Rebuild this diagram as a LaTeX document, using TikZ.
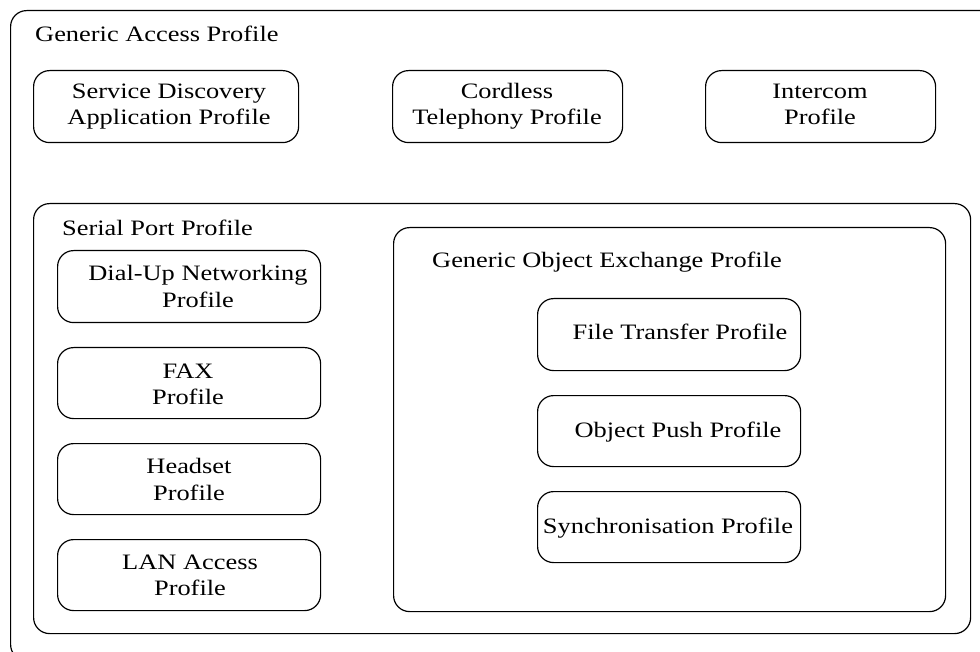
\documentclass[tikz,border=0pt]{standalone}
\usepackage{fontspec}
\setmainfont[FakeStretch=1.2]{Liberation Serif}
\begin{document}
\begin{tikzpicture}[x=1pt,y=-1pt,
  box/.style={draw=black, line width=1.2pt, rounded corners=16pt, anchor=north west, inner sep=0pt},
  txt/.style={anchor=base, inner sep=0pt, font=\fontsize{22}{26}\selectfont},
  lbl/.style={txt, anchor=base west}]
\useasboundingbox (0,0) rectangle (980,652);
\begin{scope}
\clip (0,0) rectangle (980,652);
\node[box, minimum width=1000pt, minimum height=650pt] (gap) at (10,10) {};
\end{scope}
\node[lbl] (gapl) at (35,42) {Generic Access Profile};
% top row
\node[box, minimum width=265pt, minimum height=72pt] (sdap) at (33,70) {};
\node[box, minimum width=230pt, minimum height=72pt] (ctp) at (392,70) {};
\node[box, minimum width=230pt, minimum height=72pt] (icp) at (705,70) {};
\node[txt] (sdap1) at (169,99) {Service Discovery};
\node[txt] (sdap2) at (169,125) {Application Profile};
\node[txt] (ctp1) at (507,99) {Cordless};
\node[txt] (ctp2) at (507,125) {Telephony Profile};
\node[txt] (icp1) at (820,99) {Intercom};
\node[txt] (icp2) at (820,125) {Profile};
% serial port profile
\node[box, minimum width=937pt, minimum height=430pt] (spp) at (33,203) {};
\node[lbl] (sppl) at (62,236) {Serial Port Profile};
\node[box, minimum width=263pt, minimum height=72pt] (dun) at (57,250) {};
\node[box, minimum width=263pt, minimum height=71pt] (fax) at (57,347) {};
\node[box, minimum width=263pt, minimum height=71pt] (hsp) at (57,443) {};
\node[box, minimum width=263pt, minimum height=71pt] (lap) at (57,539) {};
\node[txt] (dun1) at (198,281) {Dial-Up Networking};
\node[txt] (dun2) at (198,308) {Profile};
\node[txt] (fax1) at (188,378) {FAX};
\node[txt] (fax2) at (188,404) {Profile};
\node[txt] (hsp1) at (189,473) {Headset};
\node[txt] (hsp2) at (189,500) {Profile};
\node[txt] (lap1) at (190,569) {LAN Access};
\node[txt] (lap2) at (190,595) {Profile};
% generic object exchange profile
\node[box, minimum width=552pt, minimum height=384pt] (goep) at (393,227) {};
\node[lbl] (goepl) at (432,268) {Generic Object Exchange Profile};
\node[box, minimum width=263pt, minimum height=72pt] (ftp) at (537,298) {};
\node[box, minimum width=263pt, minimum height=71pt] (opp) at (537,395) {};
\node[box, minimum width=263pt, minimum height=71pt] (syn) at (537,491) {};
\node[txt] (ftpt) at (680,339) {File Transfer Profile};
\node[txt] (oppt) at (678,437) {Object Push Profile};
\node[txt] (synt) at (668,533) {Synchronisation Profile};
\end{tikzpicture}
\end{document}
